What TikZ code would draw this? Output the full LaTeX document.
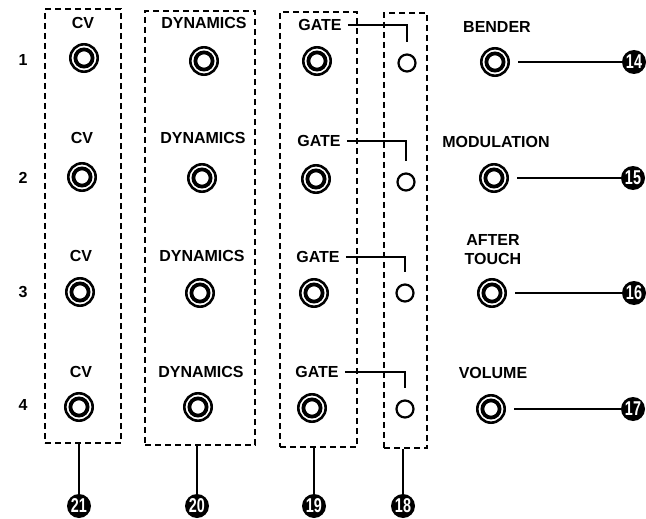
\documentclass[tikz,border=0pt]{standalone}
\usepackage{fontspec}
\usepackage{graphicx}
\setmainfont{Liberation Sans}
\usetikzlibrary{fit}
\newcommand\numtxt[1]{\scalebox{0.72}[1]{#1}}
\tikzset{
  lab/.style={font=\fontsize{16}{19}\selectfont\bfseries, inner sep=0pt, align=center},
  jack/.style={circle, draw, line width=2.6pt, minimum size=27.4pt, inner sep=0pt,
    path picture={\draw[line width=3.8pt] (path picture bounding box.center) circle (8.6pt);}},
  led/.style={circle, draw, line width=2.2pt, minimum size=17pt, inner sep=0pt},
  dbox/.style={draw, line width=1.1pt, dash pattern=on 6pt off 4pt, inner sep=0pt},
  num/.style={circle, fill=black, minimum size=24pt, inner sep=0pt, text=white,
    font=\fontsize{20}{20}\selectfont\bfseries},
  conn/.style={line width=1.3pt},
}
\begin{document}
\begin{tikzpicture}[x=1pt,y=-1pt]
\useasboundingbox (0,0) rectangle (646,519);
\fill[white] (0,0) rectangle (646,519);

% dashed boxes
\node[dbox, fit={(45,9) (121,443)}] (cvbox) {};
\node[dbox, fit={(145,11) (255,445)}] (dynbox) {};
\node[dbox, fit={(280,12) (357,447)}] (gatebox) {};
\node[dbox, fit={(384,13) (427,448)}] (ledbox) {};

% row numbers
\node[lab] (r1) at (23,60) {1};
\node[lab] (r2) at (23,178) {2};
\node[lab] (r3) at (23,292) {3};
\node[lab] (r4) at (23,405) {4};

% CV column
\node[lab] (cvl1) at (83,23) {CV};
\node[lab] (cvl2) at (82,138) {CV};
\node[lab] (cvl3) at (81,256) {CV};
\node[lab] (cvl4) at (81,372) {CV};
\node[jack] (cv1) at (84,58) {};
\node[jack] (cv2) at (82,177) {};
\node[jack] (cv3) at (80,292) {};
\node[jack] (cv4) at (79,407) {};

% DYNAMICS column
\node[lab] (dyl1) at (204,23) {DYNAMICS};
\node[lab] (dyl2) at (203,138) {DYNAMICS};
\node[lab] (dyl3) at (202,256) {DYNAMICS};
\node[lab] (dyl4) at (201,372) {DYNAMICS};
\node[jack] (dy1) at (204,61) {};
\node[jack] (dy2) at (202,178) {};
\node[jack] (dy3) at (200,293) {};
\node[jack] (dy4) at (198,407) {};

% GATE column
\node[lab] (g1) at (320,25) {GATE};
\node[lab] (g2) at (319,141) {GATE};
\node[lab] (g3) at (318,257) {GATE};
\node[lab] (g4) at (317,372) {GATE};
\node[jack] (gj1) at (317,61) {};
\node[jack] (gj2) at (316,179) {};
\node[jack] (gj3) at (314,293) {};
\node[jack] (gj4) at (312,408) {};

% LED column
\node[led] (s1) at (407,63) {};
\node[led] (s2) at (406,182) {};
\node[led] (s3) at (405,293) {};
\node[led] (s4) at (405,409) {};
\foreach \i in {1,2,3,4}{
  \draw[conn] ([xshift=6pt]g\i.east) -| ([yshift=11pt]s\i.north);
}

% right column
\node[lab] (bend) at (497,27) {BENDER};
\node[lab] (modl) at (496,142) {MODULATION};
\node[lab] (aft) at (493,250) {AFTER\\TOUCH};
\node[lab] (vol) at (493,373) {VOLUME};
\node[jack] (jb) at (495,62) {};
\node[jack] (jm) at (494,178) {};
\node[jack] (ja) at (492,293) {};
\node[jack] (jv) at (491,409) {};
\node[num] (n14) at (634,62) {\numtxt{14}};
\node[num] (n15) at (633,178) {\numtxt{15}};
\node[num] (n16) at (634,293) {\numtxt{16}};
\node[num] (n17) at (633,409) {\numtxt{17}};
\draw[conn] ([xshift=8pt]jb.east) -- (n14.west);
\draw[conn] ([xshift=8pt]jm.east) -- (n15.west);
\draw[conn] ([xshift=8pt]ja.east) -- (n16.west);
\draw[conn] ([xshift=8pt]jv.east) -- (n17.west);

% bottom numbers
\node[num] (n21) at (79,506) {\numtxt{21}};
\node[num] (n20) at (197,506) {\numtxt{20}};
\node[num] (n19) at (314,506) {\numtxt{19}};
\node[num] (n18) at (403,506) {\numtxt{18}};
\draw[conn] (n21.north) -- (n21.north |- cvbox.south);
\draw[conn] (n20.north) -- (n20.north |- dynbox.south);
\draw[conn] (n19.north) -- (n19.north |- gatebox.south);
\draw[conn] (n18.north) -- (n18.north |- ledbox.south);
\end{tikzpicture}
\end{document}
